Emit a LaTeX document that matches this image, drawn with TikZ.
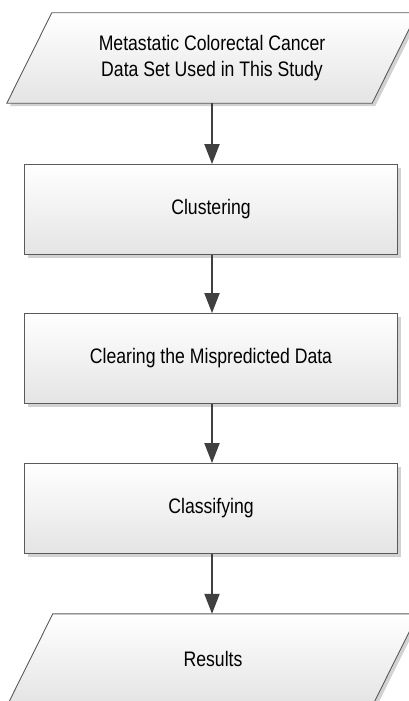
\documentclass[tikz,border=0pt]{standalone}
\usepackage{fontspec}
\newfontfamily\diagfont[FakeStretch=0.84]{Liberation Sans}
\usetikzlibrary{arrows.meta,shadows,calc}
\definecolor{edgegray}{HTML}{5A5A5A}
\definecolor{arrowgray}{HTML}{404040}
\definecolor{shadegray}{HTML}{E4E4E4}
\definecolor{shadowgray}{HTML}{D2D2D2}
\tikzset{
  stepbox/.style={draw=edgegray, line width=0.9pt, rectangle,
    minimum width=373pt, minimum height=90pt, inner sep=0pt,
    top color=white, bottom color=shadegray,
    drop shadow={shadow xshift=3pt, shadow yshift=-3pt, fill=shadowgray, opacity=1},
    font=\diagfont\fontsize{21pt}{26pt}\selectfont, align=center},
  iobox/.style={rectangle, minimum width=365pt, minimum height=90pt, inner sep=0pt,
    font=\diagfont\fontsize{21pt}{26pt}\selectfont, align=center},
  ioshape/.style={draw=edgegray, line width=0.9pt,
    top color=white, bottom color=shadegray,
    drop shadow={shadow xshift=3pt, shadow yshift=-3pt, fill=shadowgray, opacity=1}},
  flowarrow/.style={draw=arrowgray, line width=2pt, -{Triangle[length=20pt,width=15pt]}}
}
\begin{document}
\begin{tikzpicture}[x=1pt,y=-1pt]
\useasboundingbox (0,0) rectangle (409,701);
\clip (0,0) rectangle (409,701);
\fill[white] (0,0) rectangle (409,701);
% input parallelogram
\node[iobox] (data) at (212,58) {};
\path[ioshape] ($(data.north west)+(22.5,0)$) -- ($(data.north east)+(22.5,0)$)
  -- ($(data.south east)+(-22.5,0)$) -- ($(data.south west)+(-22.5,0)$) -- cycle;
\node[iobox] (datatext) at (212,58) {Metastatic Colorectal Cancer\\Data Set Used in This Study};
% process boxes
\node[stepbox] (clus) at (211,209.5) {Clustering};
\node[stepbox] (clear) at (211,358.5) {Clearing the Mispredicted Data};
\node[stepbox] (class) at (211,508.5) {Classifying};
% output parallelogram
\node[iobox] (res) at (213,659) {};
\path[ioshape] ($(res.north west)+(22.5,0)$) -- ($(res.north east)+(22.5,0)$)
  -- ($(res.south east)+(-22.5,0)$) -- ($(res.south west)+(-22.5,0)$) -- cycle;
\node[iobox] (restext) at (213,659) {Results};
% arrows
\draw[flowarrow] (data.south) -- (data.south |- clus.north);
\draw[flowarrow] ([xshift=1pt]clus.south) -- ([xshift=1pt]clear.north);
\draw[flowarrow] ([xshift=1pt]clear.south) -- ([xshift=1pt]class.north);
\draw[flowarrow] ([xshift=1pt]class.south) -- ([xshift=1pt]class.south |- res.north);
\end{tikzpicture}
\end{document}
